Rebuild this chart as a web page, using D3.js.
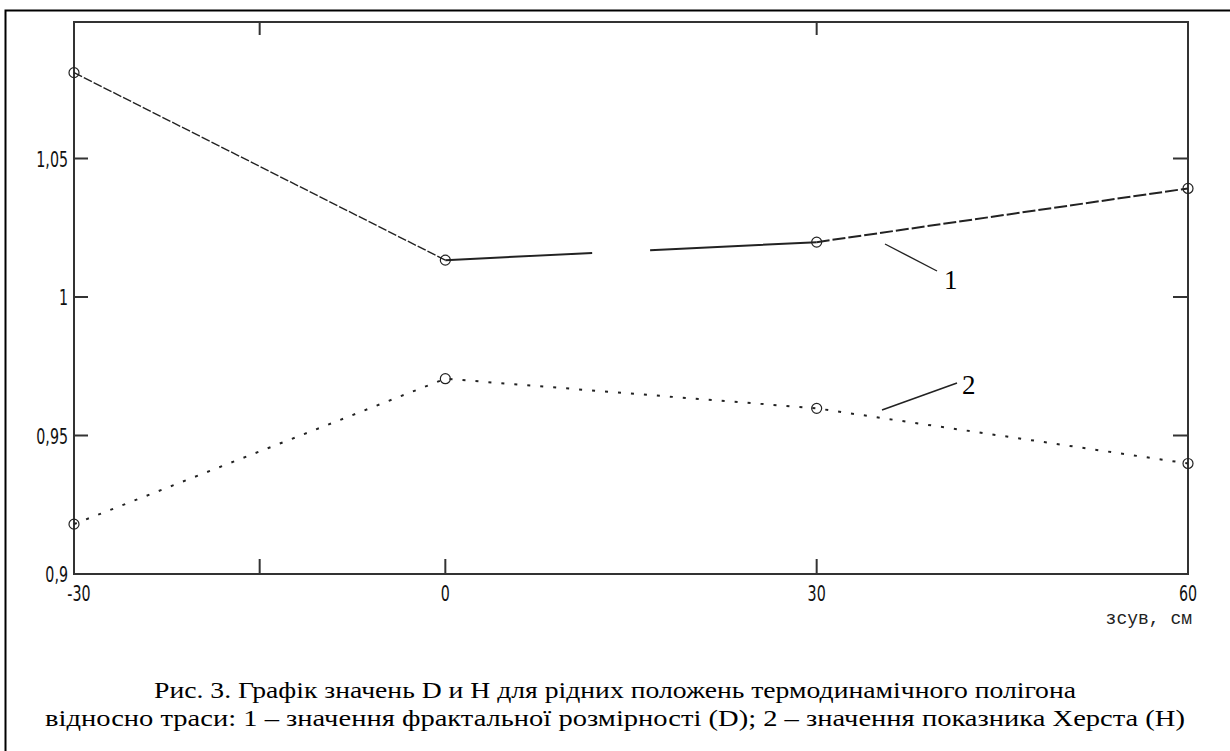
<!DOCTYPE html>
<html>
<head>
<meta charset="utf-8">
<script src="https://cdn.jsdelivr.net/npm/d3@7"></script>
<style>
  body { margin: 0; background: #fff; }
  svg { display: block; }
</style>
</head>
<body>
<svg width="1230" height="751"></svg>
<script>
// shift positions, cm
const shifts = [-30, 0, 30, 60]
// 1 - fractal dimension D
const seriesD = [1.081, 1.0133, 1.0198, 1.0392]
// 2 - Hurst exponent H
const seriesH = [0.918, 0.9705, 0.9598, 0.9399]
// tick labels
const xTickVals = [-30, 0, 30, 60]
const xTickLabels = ['-30', '0', '30', '60']
const yTickVals = [0.9, 0.95, 1, 1.05]
const yTickLabels = ['0,9', '0,95', '1', '1,05']
const xMarksBottom = [-15, 0, 30]
const xMarksTop = [-15, 30]
const yMarks = [0.95, 1, 1.05]
const xLabel = 'зсув, см'
const caption = [
  'Рис. 3. Графік значень D и H для рідних положень термодинамічного полігона',
  'відносно траси: 1 – значення фрактальної розмірності (D); 2 – значення показника Херста (H)'
]

const svg = d3.select('svg')

// outer frame (right and bottom edges fall outside the picture)
svg.append('rect')
  .attr('x', 5.5).attr('y', 10.5)
  .attr('width', 1240).attr('height', 760)
  .attr('fill', 'none').attr('stroke', '#000').attr('stroke-width', 2)

const x = d3.scaleLinear().domain([-30, 60]).range([74, 1188])
const y = d3.scaleLinear().domain([0.9, 1.1]).range([574, 20])

const g = svg.append('g')

// plot box
g.append('rect')
  .attr('x', x(-30)).attr('y', 22)
  .attr('width', x(60) - x(-30)).attr('height', y(0.9) - 22)
  .attr('fill', 'none').attr('stroke', '#333').attr('stroke-width', 2)

// inward tick marks
g.selectAll('.tb').data(xMarksBottom).enter().append('line')
  .attr('x1', d => x(d)).attr('x2', d => x(d))
  .attr('y1', y(0.9)).attr('y2', y(0.9) - 15)
  .attr('stroke', '#333').attr('stroke-width', 2)
g.selectAll('.tt').data(xMarksTop).enter().append('line')
  .attr('x1', d => x(d)).attr('x2', d => x(d))
  .attr('y1', 22).attr('y2', 35)
  .attr('stroke', '#333').attr('stroke-width', 2)
g.selectAll('.tl').data(yMarks).enter().append('line')
  .attr('x1', x(-30)).attr('x2', x(-30) + 14)
  .attr('y1', d => y(d)).attr('y2', d => y(d))
  .attr('stroke', '#333').attr('stroke-width', 2)
g.selectAll('.tr').data(yMarks).enter().append('line')
  .attr('x1', x(60)).attr('x2', x(60) - 15)
  .attr('y1', d => y(d)).attr('y2', d => y(d))
  .attr('stroke', '#333').attr('stroke-width', 2)

// tick labels, squeezed horizontally like the bitmap font of the original
const tickFont = '"DejaVu Sans Condensed", "DejaVu Sans", sans-serif'
g.selectAll('.yl').data(yTickVals).enter().append('text')
  .attr('transform', d => `translate(68,${y(d) + 8}) scale(0.72,1)`)
  .attr('text-anchor', 'end')
  .attr('font-family', tickFont).attr('font-size', 22)
  .attr('fill', '#111')
  .text((d, i) => yTickLabels[i])
g.selectAll('.xl').data(xTickVals).enter().append('text')
  .attr('transform', (d, i) => `translate(${x(d) + (i === 0 ? 5 : 0)},601) scale(0.72,1)`)
  .attr('text-anchor', 'middle')
  .attr('font-family', tickFont).attr('font-size', 22)
  .attr('fill', '#111')
  .text((d, i) => xTickLabels[i])

g.append('text')
  .attr('x', 1192).attr('y', 624)
  .attr('text-anchor', 'end')
  .attr('font-family', '"Liberation Mono", monospace').attr('font-size', 18)
  .attr('fill', '#222')
  .text(xLabel)

// series lines, drawn segment by segment so each gets its own dash
const pts = arr => shifts.map((s, i) => [x(s), y(arr[i])])
const dDashes = ['9,2', '147,58,400', '13,3']
const pD = pts(seriesD)
for (let i = 0; i < pD.length - 1; i++) {
  g.append('path')
    .attr('d', d3.line()([pD[i], pD[i + 1]]))
    .attr('fill', 'none').attr('stroke', '#222').attr('stroke-width', i === 0 ? 1.4 : 2)
    .attr('stroke-dasharray', dDashes[i])
}
const pH = pts(seriesH)
g.append('path')
  .attr('d', d3.line()(pH))
  .attr('fill', 'none').attr('stroke', '#222').attr('stroke-width', 2)
  .attr('stroke-dasharray', '3,10')

// markers
const markers = [].concat(pD, pH)
g.selectAll('.m').data(markers).enter().append('circle')
  .attr('cx', d => d[0]).attr('cy', d => d[1]).attr('r', 5)
  .attr('fill', 'none').attr('stroke', '#222').attr('stroke-width', 1.2)

// leader lines and curve numbers
const serif = '"Liberation Serif", "Times New Roman", serif'
g.append('line').attr('x1', 885).attr('y1', 244).attr('x2', 937).attr('y2', 271)
  .attr('stroke', '#222').attr('stroke-width', 1.4)
g.append('text').attr('x', 944).attr('y', 289)
  .attr('font-family', serif).attr('font-size', 27).text('1')
g.append('line').attr('x1', 882).attr('y1', 410).attr('x2', 957).attr('y2', 383)
  .attr('stroke', '#222').attr('stroke-width', 1.6)
g.append('text').attr('x', 962).attr('y', 394)
  .attr('font-family', serif).attr('font-size', 27).text('2')

// caption
svg.selectAll('.cap').data(caption).enter().append('text')
  .attr('x', 615).attr('y', (d, i) => 698 + i * 28)
  .attr('text-anchor', 'middle')
  .attr('font-family', serif).attr('font-size', 23)
  .attr('textLength', (d, i) => i === 0 ? 922 : 1140)
  .attr('lengthAdjust', 'spacingAndGlyphs')
  .text(d => d)
</script>
</body>
</html>
